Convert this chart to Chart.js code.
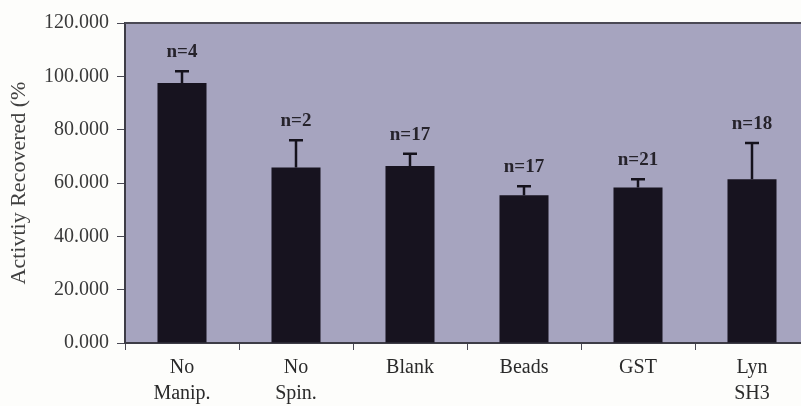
<!DOCTYPE html>
<html>
<head>
<meta charset="utf-8">
<script src="https://cdn.jsdelivr.net/npm/chart.js@4/dist/chart.umd.min.js"></script>
<style>
  html, body { margin: 0; padding: 0; background: #fdfdfb; overflow: hidden; }
  #wrap { position: absolute; left: 0; top: 0; width: 815px; height: 406px; }
</style>
</head>
<body>
<div id="wrap"><canvas id="c" width="815" height="406"></canvas></div>
<script>
const categories = [["No", "Manip."], ["No", "Spin."], "Blank", "Beads", "GST", ["Lyn", "SH3"]];
const meanValues = [97.5, 65.8, 66.4, 55.4, 58.3, 61.4];
const errorValues = [4.4, 10.2, 4.6, 3.4, 3.1, 13.6];
const nLabels = ["n=4", "n=2", "n=17", "n=17", "n=21", "n=18"];
const yAxisTitle = "Activtiy Recovered (%";

const SERIF = '"Liberation Serif", "DejaVu Serif", serif';

const decorPlugin = {
  id: 'decor',
  beforeDraw(chart) {
    const { ctx, chartArea: a } = chart;
    ctx.save();
    ctx.fillStyle = '#a6a4bf';
    ctx.fillRect(a.left, a.top, a.right - a.left, a.bottom - a.top);
    ctx.restore();
  },
  afterDatasetsDraw(chart) {
    const { ctx, chartArea: a, scales } = chart;
    const meta = chart.getDatasetMeta(0);
    const y = scales.y;
    ctx.save();
    // top border
    ctx.strokeStyle = '#4a4954';
    ctx.lineWidth = 2;
    ctx.beginPath();
    ctx.moveTo(a.left, a.top);
    ctx.lineTo(a.right, a.top);
    ctx.stroke();
    // error bars and n labels
    meta.data.forEach((bar, i) => {
      const x = bar.x;
      const yTop = y.getPixelForValue(meanValues[i]);
      const yCap = y.getPixelForValue(meanValues[i] + errorValues[i]);
      ctx.strokeStyle = '#15121c';
      ctx.lineWidth = 2.5;
      ctx.beginPath();
      ctx.moveTo(x, yTop);
      ctx.lineTo(x, yCap);
      ctx.moveTo(x - 7, yCap);
      ctx.lineTo(x + 7, yCap);
      ctx.stroke();
      ctx.fillStyle = '#26232b';
      ctx.font = 'bold 19px ' + SERIF;
      ctx.textAlign = 'center';
      ctx.textBaseline = 'middle';
      ctx.fillText(nLabels[i], x, yCap - 19);
    });
    // y axis title, centred on the value axis
    ctx.translate(19, (a.top + a.bottom) / 2);
    ctx.rotate(-Math.PI / 2);
    ctx.fillStyle = '#404040';
    ctx.font = '22px ' + SERIF;
    ctx.textAlign = 'center';
    ctx.textBaseline = 'middle';
    ctx.fillText(yAxisTitle, 0, 0);
    ctx.restore();
  }
};

new Chart(document.getElementById('c'), {
  type: 'bar',
  data: {
    labels: categories,
    datasets: [{
      data: meanValues,
      backgroundColor: '#17131f',
      borderWidth: 0,
      barPercentage: 0.43,
      categoryPercentage: 1.0
    }]
  },
  options: {
    responsive: false,
    animation: false,
    layout: { padding: { left: 0, top: 23, right: 6, bottom: 0 } },
    plugins: { legend: { display: false }, tooltip: { enabled: false } },
    scales: {
      x: {
        grid: { offset: true, drawOnChartArea: false, tickLength: 7, color: '#4a4954', lineWidth: 1 },
        border: { color: '#3d3c46', width: 2 },
        ticks: {
          color: '#2a2a2a',
          font: { family: SERIF, size: 20, lineHeight: 1.3 },
          padding: 5,
          maxRotation: 0,
          autoSkip: false
        },
        afterFit(s) { s.height = 63; }
      },
      y: {
        min: 0,
        max: 120,
        grid: { drawOnChartArea: false, tickLength: 8, color: '#4a4954' },
        border: { color: '#3d3c46', width: 2 },
        ticks: {
          stepSize: 20,
          color: '#3a3a3a',
          font: { family: SERIF, size: 20 },
          padding: 8,
          callback: v => Number(v).toFixed(3)
        },
        afterFit(s) { s.width = 125; }
      }
    }
  },
  plugins: [decorPlugin]
});
</script>
</body>
</html>
